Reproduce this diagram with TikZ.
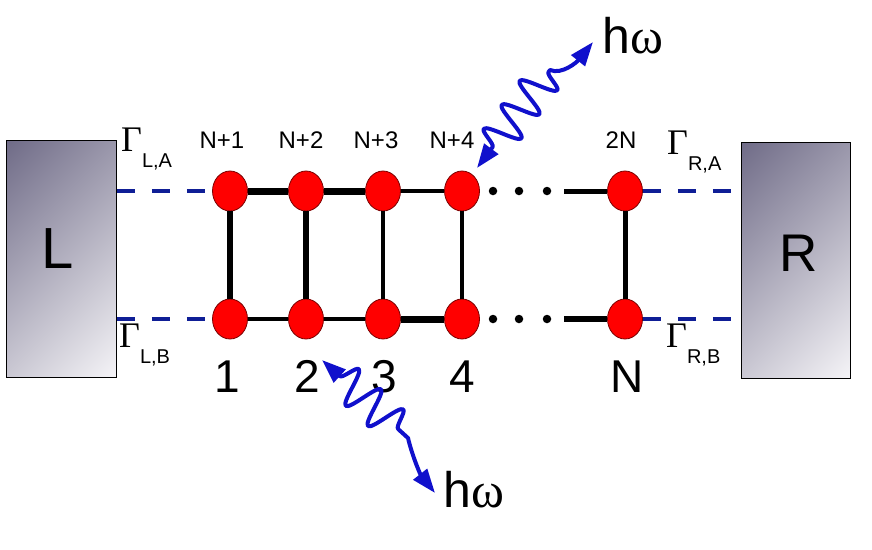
\documentclass[tikz,border=0pt]{standalone}
\usepackage{fontspec}
\setmainfont{Liberation Sans}
\newfontfamily\serifgr{Liberation Serif}
\usetikzlibrary{shapes.geometric,arrows.meta,decorations.pathmorphing,calc}
\definecolor{nodered}{HTML}{FF0000}
\definecolor{nodeedge}{HTML}{7A0000}
\definecolor{leadblue}{HTML}{0F1E96}
\definecolor{wavecol}{HTML}{1010CC}
\definecolor{boxdark}{HTML}{6E6A86}
\definecolor{boxlight}{HTML}{F6F5F8}
\newcommand\GamLab[1]{{\serifgr\fontsize{36}{36}\selectfont Γ}{\fontsize{20}{20}\selectfont\raisebox{-16pt}{#1}}}
\begin{document}
\begin{tikzpicture}[x=1pt,y=-1pt,
 site/.style={ellipse,fill=nodered,draw=nodeedge,line width=0.8pt,minimum width=35pt,minimum height=40pt,inner sep=0pt},
 lead/.style={draw=black,line width=0.8pt,minimum width=110pt,minimum height=237pt,inner sep=0pt,
   path picture={\shade[top color=boxdark,bottom color=boxlight,shading angle=45]
     ($(path picture bounding box.center)+(-125,-125)$) rectangle ++(250,250);}},
 bond/.style={draw=black,line width=#1},
 dotnode/.style={circle,fill=black,minimum size=8.5pt,inner sep=0pt},
 coupling/.style={draw=leadblue,line width=3.5pt,dash pattern=on 18pt off 17pt},
 photon/.style={draw=wavecol,line width=4pt,line join=round,{Triangle[length=24pt,width=17pt]}-{Triangle[length=24pt,width=17pt]}},
 toplab/.style={anchor=base,inner sep=0pt,font=\fontsize{24}{24}\selectfont},
 botlab/.style={anchor=base,inner sep=0pt,font=\fontsize{46}{46}\selectfont},
 gamlab/.style={anchor=base west,inner sep=0pt},
 hwlab/.style={anchor=base west,inner sep=0pt,font=\fontsize{50}{50}\selectfont},
]
\useasboundingbox (0,0) rectangle (872,549);
% leads
\node[lead] (L) at (61.5,258.5) {};
\node[lead,minimum width=109pt,minimum height=236pt] (R) at (795.5,260) {};
\node[anchor=base,inner sep=0pt,font=\fontsize{58}{58}\selectfont] (Ltext) at (58,268) {L};
\node[anchor=base,inner sep=0pt,font=\fontsize{53}{53}\selectfont] (Rtext) at (799,271) {R};
% sites
\node[site] (a1) at (230,191) {};
\node[site] (a2) at (306,191) {};
\node[site] (a3) at (383,191) {};
\node[site] (a4) at (462,191) {};
\node[site] (aN) at (625,191) {};
\node[site] (b1) at (230,319) {};
\node[site] (b2) at (306,319) {};
\node[site] (b3) at (383,319) {};
\node[site] (b4) at (462,319) {};
\node[site] (bN) at (625,319) {};
% dots
\node[dotnode] (ad1) at (493,191) {};
\node[dotnode] (ad2) at (519,191) {};
\node[dotnode] (ad3) at (547,191) {};
\node[dotnode] (bd1) at (493,319) {};
\node[dotnode] (bd2) at (519,319) {};
\node[dotnode] (bd3) at (547,319) {};
\coordinate (ae) at (564,191);
\coordinate (be) at (564,319);
% bonds
\draw[bond=7pt] (a1) -- (a2);
\draw[bond=7pt] (a2) -- (a3);
\draw[bond=4.5pt] (a3) -- (a4);
\draw[bond=4.5pt] (b1) -- (b2);
\draw[bond=4.5pt] (b2) -- (b3);
\draw[bond=7pt] (b3) -- (b4);
\draw[bond=6pt] (a1) -- (b1);
\draw[bond=5.5pt] (a2) -- (b2);
\draw[bond=4.5pt] (a3) -- (b3);
\draw[bond=4.5pt] (a4) -- (b4);
\draw[bond=5pt] (aN) -- (bN);
\draw[bond=5pt] (ae) -- (aN);
\draw[bond=6.5pt] (be) -- (bN);
% couplings
\draw[coupling] (a1 -| L.east) -- (a1);
\draw[coupling] (b1 -| L.east) -- (b1);
\draw[coupling] (aN) -- (aN -| R.west);
\draw[coupling] (bN) -- (bN -| R.west);
% labels
\node[toplab] (la1) at (222,148) {N+1};
\node[toplab] (la2) at (301,148) {N+2};
\node[toplab] (la3) at (376,148) {N+3};
\node[toplab] (la4) at (452,148) {N+4};
\node[toplab] (laN) at (621,148) {2N};
\node[botlab] (lb1) at (227,392) {1};
\node[botlab] (lb2) at (307,392) {2};
\node[botlab] (lb3) at (384,392) {3};
\node[botlab] (lb4) at (462,392) {4};
\node[botlab] (lbN) at (627,392) {N};
\node[gamlab] (gLA) at (121,151) {\GamLab{L,A}};
\node[gamlab] (gLB) at (119,347) {\GamLab{L,B}};
\node[gamlab] (gRA) at (667,154) {\GamLab{R,A}};
\node[gamlab] (gRB) at (666,347) {\GamLab{R,B}};
\node[hwlab] (hw1) at (602,53) {h{\serifgr ω}};
\node[hwlab] (hw2) at (443,507) {h{\serifgr ω}};
% photons
\coordinate (pA) at (477,168);
\coordinate (wA) at (550,70);
\coordinate (pB) at (593,42);
\draw[photon] (pA) decorate[decoration={snake,amplitude=18pt,segment length=30pt,pre length=26pt,post length=2pt}] {-- (wA)} .. controls (562,75) and (577,62) .. (pB);
\coordinate (pC) at (322,360);
\coordinate (wC) at (408,438);
\coordinate (pD) at (435,493);
\draw[photon] (pC) decorate[decoration={snake,amplitude=18pt,segment length=30pt,pre length=24pt,post length=2pt}] {-- (wC)} .. controls (412,455) and (420,474) .. (pD);
\end{tikzpicture}
\end{document}
